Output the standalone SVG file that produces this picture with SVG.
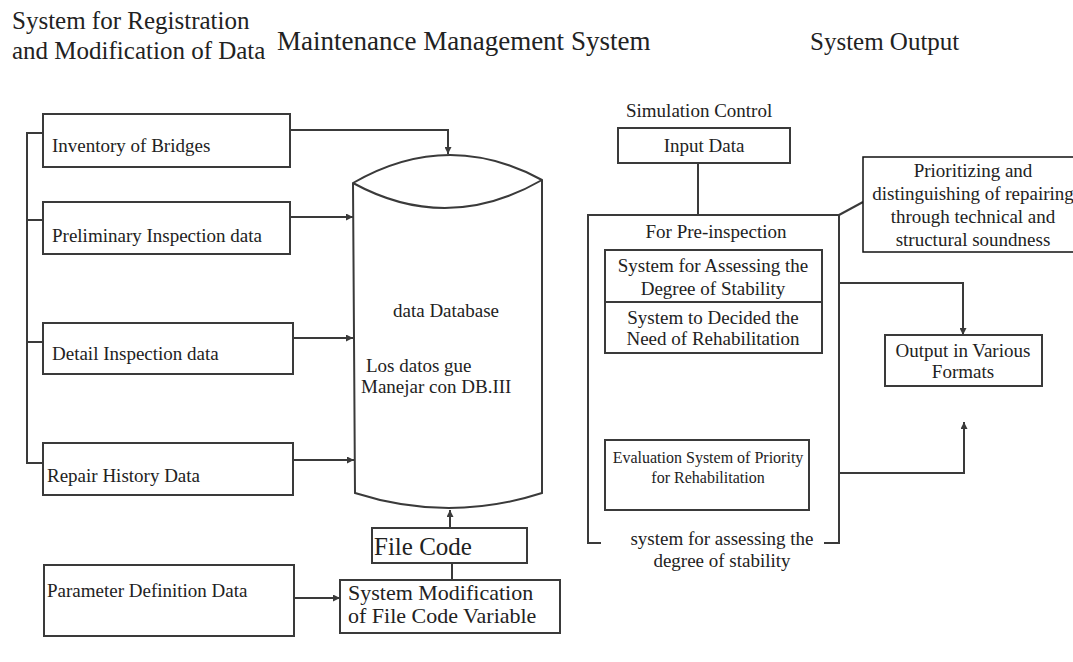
<svg xmlns="http://www.w3.org/2000/svg" width="1073" height="662" viewBox="0 0 1073 662" font-family="'Liberation Serif', Tinos, 'Times New Roman', 'Nimbus Roman', 'DejaVu Serif', serif">
<style>
text{font-family:"Liberation Serif",Tinos,"Times New Roman","Nimbus Roman","DejaVu Serif",serif;fill:#222}
.h{font-size:25px}
.t{font-size:19px}
.c{text-anchor:middle}
.box{fill:#fff;stroke:#3a3a3a;stroke-width:2}
.ln{fill:none;stroke:#3a3a3a;stroke-width:2}
</style>
<defs>
<marker id="ah" viewBox="0 0 10 10" refX="10" refY="5" markerWidth="8" markerHeight="7" markerUnits="userSpaceOnUse" orient="auto">
<path d="M0,0 L10,5 L0,10 z" fill="#3a3a3a"/>
</marker>
</defs>
<rect width="1073" height="662" fill="#fff"/>
<g id="headings">
<text class="h" x="12" y="29">System for Registration</text>
<text class="h" x="12" y="59">and Modification of Data</text>
<text x="277" y="50" style="font-size:27px">Maintenance Management System</text>
<text class="h" x="810" y="50">System Output</text>
</g>
<g id="connectors">
<path class="ln" d="M43,133 H27 V463 H43 M27,220 H43 M27,342 H43"/>
<path class="ln" d="M290,130 H448 V154" marker-end="url(#ah)"/>
<path class="ln" d="M290,217 H353" marker-end="url(#ah)"/>
<path class="ln" d="M293,338 H353" marker-end="url(#ah)"/>
<path class="ln" d="M293,460 H354" marker-end="url(#ah)"/>
<path class="ln" d="M294,598 H340" marker-end="url(#ah)"/>
<path class="ln" d="M450,528 V510" marker-end="url(#ah)"/>
<path class="ln" d="M452,580 V563"/>
<path class="ln" d="M698,163 V215"/>
<path class="ln" d="M700,388 V440" marker-end="url(#ah)"/>
<path class="ln" d="M839,215 L863,202"/>
<path class="ln" d="M839,283 H963 V335" marker-end="url(#ah)"/>
<path class="ln" d="M839,473 H964 V422" marker-end="url(#ah)"/>
</g>
<g id="inventory"><rect class="box" x="43" y="114" width="247" height="53"/><text class="t" x="52" y="152">Inventory of Bridges</text></g>
<g id="preliminary"><rect class="box" x="43" y="202" width="247" height="52"/><text class="t" x="52" y="242">Preliminary Inspection data</text></g>
<g id="detail"><rect class="box" x="43" y="323" width="250" height="51"/><text class="t" x="52" y="360">Detail Inspection data</text></g>
<g id="repair"><rect class="box" x="43" y="443" width="250" height="52"/><text class="t" x="47" y="482">Repair History Data</text></g>
<g id="parameter"><rect class="box" x="44" y="565" width="250" height="71"/><text class="t" x="47" y="597">Parameter Definition Data</text></g>
<g id="database">
<path class="box" d="M353,183 Q447.5,128.5 542,180 V493 Q449,523 355,493 Z"/>
<path class="ln" d="M353,183 Q447.5,234.5 542,180"/>
<text class="t" x="393" y="317">data Database</text>
<text class="t" x="366" y="372">Los datos gue</text>
<text class="t" x="361" y="393">Manejar con DB.III</text>
</g>
<g id="filecode"><rect class="box" x="372" y="528" width="155" height="35"/><text x="374" y="555" style="font-size:25px">File Code</text></g>
<g id="sysmod"><rect class="box" x="340" y="580" width="220" height="53"/><text x="348" y="600" style="font-size:22px">System Modification</text><text x="348" y="623" style="font-size:22px">of File Code Variable</text></g>
<g id="simulation">
<text class="t" x="626" y="117">Simulation Control</text>
</g>
<g id="inputdata"><rect class="box" x="618" y="128" width="172" height="35"/><text class="t c" x="704" y="152">Input Data</text></g>
<g id="preinspection">
<rect class="box" x="588" y="215" width="251" height="328"/>
<text class="t c" x="716" y="238">For Pre-inspection</text>
</g>
<g id="assessing"><rect class="box" x="605" y="250" width="217" height="52"/><text class="t c" x="713" y="272">System for Assessing the</text><text class="t c" x="713" y="295">Degree of Stability</text></g>
<g id="decide"><rect class="box" x="605" y="302" width="217" height="51"/><text class="t c" x="713" y="324">System to Decided the</text><text class="t c" x="713" y="345">Need of Rehabilitation</text></g>
<g id="evaluation"><rect class="box" x="605" y="440" width="204" height="70"/><text class="c" x="708" y="463" style="font-size:16px">Evaluation System of Priority</text><text class="c" x="708" y="483" style="font-size:16px">for Rehabilitation</text></g>
<g id="stability-label">
<rect x="601" y="523" width="223" height="50" fill="#fff"/>
<text class="t c" x="722" y="545">system for assessing the</text>
<text class="t c" x="722" y="567">degree of stability</text>
</g>
<g id="prioritizing"><rect x="863" y="157" width="212" height="95" fill="#fff" stroke="#111" stroke-width="1.5"/>
<text class="t c" x="973" y="177">Prioritizing and</text>
<text class="t c" x="973" y="200">distinguishing of repairing</text>
<text class="t c" x="973" y="223">through technical and</text>
<text class="t c" x="973" y="246">structural soundness</text>
</g>
<g id="output"><rect class="box" x="885" y="335" width="157" height="51"/><text class="t c" x="963" y="357">Output in Various</text><text class="t c" x="963" y="378">Formats</text></g>
</svg>
